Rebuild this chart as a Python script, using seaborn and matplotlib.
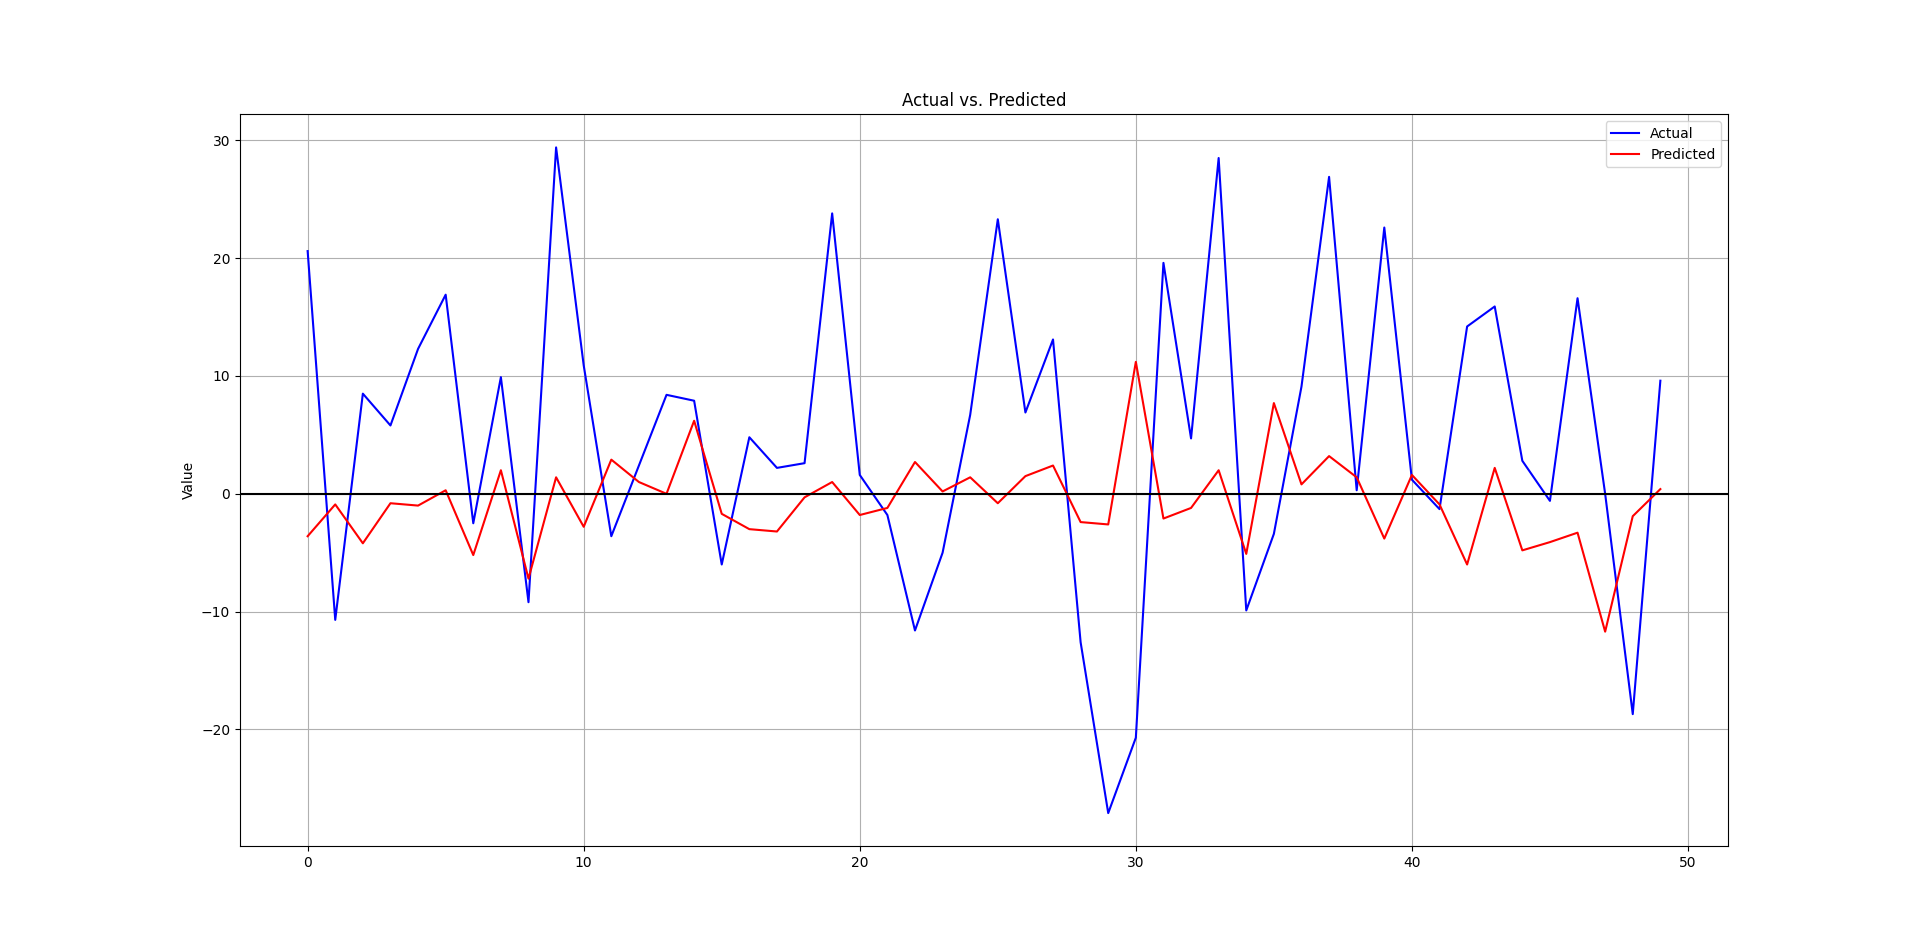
import matplotlib
matplotlib.use("Agg")
import matplotlib.pyplot as plt
import seaborn as sns
import numpy as np
import pandas as pd

index = list(range(50))
actual = [20.6, -10.7, 8.5, 5.8, 12.3, 16.9, -2.5, 9.9, -9.2, 29.4,
          10.9, -3.6, 2.4, 8.4, 7.9, -6.0, 4.8, 2.2, 2.6, 23.8,
          1.6, -1.8, -11.6, -5.0, 6.7, 23.3, 6.9, 13.1, -12.6, -27.1,
          -20.7, 19.6, 4.7, 28.5, -9.9, -3.4, 9.1, 26.9, 0.3, 22.6,
          1.2, -1.3, 14.2, 15.9, 2.8, -0.6, 16.6, 0.0, -18.7, 9.6]
predicted = [-3.6, -0.9, -4.2, -0.8, -1.0, 0.3, -5.2, 2.0, -7.2, 1.4,
             -2.8, 2.9, 1.0, 0.0, 6.2, -1.7, -3.0, -3.2, -0.3, 1.0,
             -1.8, -1.2, 2.7, 0.2, 1.4, -0.8, 1.5, 2.4, -2.4, -2.6,
             11.2, -2.1, -1.2, 2.0, -5.1, 7.7, 0.8, 3.2, 1.4, -3.8,
             1.6, -0.9, -6.0, 2.2, -4.8, -4.1, -3.3, -11.7, -1.9, 0.4]

df = pd.DataFrame({"idx": index, "Actual": actual, "Predicted": predicted})

fig, ax = plt.subplots(figsize=(19.2, 9.51), dpi=100)
sns.lineplot(data=df, x="idx", y="Actual", color="blue", label="Actual", ax=ax)
sns.lineplot(data=df, x="idx", y="Predicted", color="red", label="Predicted", ax=ax)
ax.axhline(0, color="black", linewidth=1.5)
ax.set_title("Actual vs. Predicted")
ax.set_xlabel("")
ax.set_ylabel("Value")
ax.grid(True)
ax.legend(loc="upper right")
fig.savefig("out.png", dpi=100)
